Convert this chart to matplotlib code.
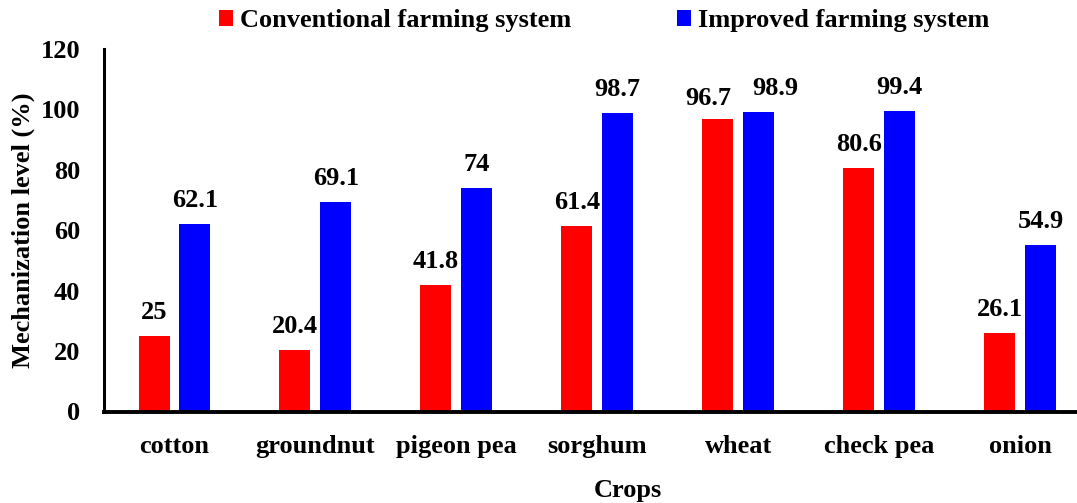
import matplotlib
matplotlib.use("Agg")
import matplotlib.pyplot as plt
import numpy as np
from matplotlib.patches import Patch

crops = ["cotton", "groundnut", "pigeon pea", "sorghum", "wheat", "check pea", "onion"]
conventional = [25, 20.4, 41.8, 61.4, 96.7, 80.6, 26.1]
improved = [62.1, 69.1, 74, 98.7, 98.9, 99.4, 54.9]
conv_labels = ["25", "20.4", "41.8", "61.4", "96.7", "80.6", "26.1"]
impr_labels = ["62.1", "69.1", "74", "98.7", "98.9", "99.4", "54.9"]
series_names = ["Conventional farming system", "Improved farming system"]
yticks = [0, 20, 40, 60, 80, 100, 120]

plt.rcParams['font.family'] = ['Liberation Serif', 'DejaVu Serif']
plt.rcParams['font.weight'] = 'bold'

W, H = 1077, 503
fig = plt.figure(figsize=(W / 100, H / 100), dpi=100)
ax = fig.add_axes([104 / W, (H - 411.5) / H, (W - 104) / W, 363 / H])

x = np.arange(len(crops))
bw = 0.22
off = 0.145
red, blue = "#FF0000", "#0000FF"
ax.bar(x - off, conventional, bw, color=red)
ax.bar(x + off, improved, bw, color=blue)

# label nudges in pixels (dx, dy) to avoid overlap, as in the original
conv_nudge = {4: (-10, 14)}
impr_nudge = {4: (17, 17)}
px = 72 / 100

for i, (xi, v, lab) in enumerate(zip(x - off, conventional, conv_labels)):
    dx, dy = conv_nudge.get(i, (0, 17))
    ax.annotate(lab, (xi, v), xytext=(dx * px, dy * px), textcoords="offset points",
                ha="center", va="baseline", fontsize=19, fontweight="bold")
for i, (xi, v, lab) in enumerate(zip(x + off, improved, impr_labels)):
    dx, dy = impr_nudge.get(i, (0, 17))
    ax.annotate(lab, (xi, v), xytext=(dx * px, dy * px), textcoords="offset points",
                ha="center", va="baseline", fontsize=19, fontweight="bold")

ax.set_xlim(-0.5, 6.404)
ax.set_ylim(0, 120)
ax.set_yticks(yticks)
ax.set_yticklabels([str(t) for t in yticks], fontsize=19, fontweight="bold")
ax.set_xticks(x)
ax.set_xticklabels(crops, fontsize=19, fontweight="bold")
ax.tick_params(axis="y", length=0, pad=17)
ax.tick_params(axis="x", length=0, pad=17)

for s in ["top", "right"]:
    ax.spines[s].set_visible(False)
ax.spines["left"].set_linewidth(2.2)
ax.spines["bottom"].set_linewidth(2.8)

ax.set_xlabel("Crops", fontsize=19, fontweight="bold")
ax.xaxis.set_label_coords((628 - 104) / (W - 104), -(491 - 411.5) / 363)
ax.xaxis.label.set_va("center")
ax.set_ylabel("Mechanization level (%)", fontsize=19, fontweight="bold")
ax.yaxis.set_label_coords(-(104 - 23) / (W - 104), 0.5)
ax.yaxis.label.set_va("center")

handles = [Patch(facecolor=red), Patch(facecolor=blue)]
fig.legend(handles, series_names, loc="center", bbox_to_anchor=(604 / W, 1 - 21 / H),
           ncol=2, frameon=False, prop={"size": 19, "weight": "bold"},
           handlelength=0.55, handleheight=0.55, handletextpad=0.25,
           columnspacing=4.0, borderpad=0)

fig.savefig("out.png", dpi=100)
